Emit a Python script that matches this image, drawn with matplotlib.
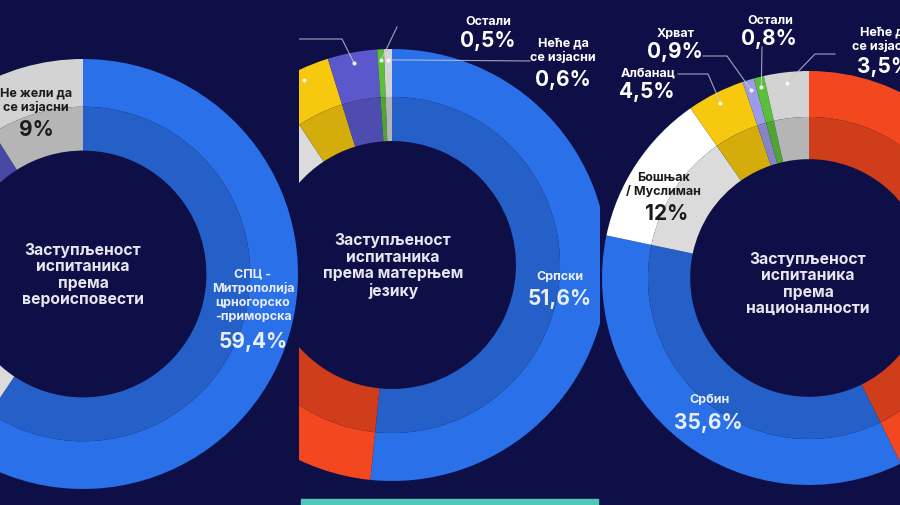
import matplotlib.pyplot as plt
import numpy as np
from matplotlib.colors import to_rgb
from matplotlib.patches import Rectangle

plt.rcParams['font.family'] = ['Inter', 'DejaVu Sans']

W, H = 900, 506
BG = '#0f0f47'
SHADE = 0.86   # inner band is a darker copy of the outer band

# ---- panel 1: вероисповест (only part of it is in the picture)
rel_names = ['СПЦ -\nМитрополија\nцрногорско\n-приморска', 'Исламска заједница', 'ЦПЦ',
             'Католичка црква', 'Остали', 'Атеиста', 'Не жели да\nсе изјасни']
rel_vals = [59.4, 17.0, 7.5, 3.0, 0.6, 3.5, 9.0]
rel_cols = ['#2a70e8', '#ffffff', '#f2471f', '#f6c90e', '#5cbf3a', '#5454c0', '#d3d3d3']
rel_title = 'Заступљеност\nиспитаника\nпрема\nвероисповести'

# ---- panel 2: матерњи језик
lang_names = ['Српски', 'Црногорски', 'Босански', 'Албански', 'Хрватски', 'Остали',
              'Неће да\nсе изјасни']
lang_vals = [51.6, 30.6, 8.5, 4.5, 3.7, 0.5, 0.6]
lang_cols = ['#2a70e8', '#f2471f', '#ffffff', '#f6c90e', '#5b58cc', '#5cbf3a', '#d3d3d3']
lang_title = 'Заступљеност\nиспитаника\nпрема матерњем\nјезику'

# ---- panel 3: националност
nat_names = ['Црногорац', 'Србин', 'Бошњак\n/ Муслиман', 'Албанац', 'Хрват', 'Остали',
             'Неће да\nсе изјасни']
nat_vals = [42.7, 35.6, 12.0, 4.5, 0.9, 0.8, 3.5]
nat_cols = ['#f2471f', '#2a70e8', '#ffffff', '#f6c90e', '#9b9be6', '#5cbf3a', '#d3d3d3']
nat_title = 'Заступљеност\nиспитаника\nпрема\nнационалности'


def pct(v):
    s = ('%.1f' % v).replace('.', ',')
    if s.endswith(',0'):
        s = s[:-2]
    return s + '%'


fig = plt.figure(figsize=(9, 5.06), dpi=100)
fig.patch.set_facecolor(BG)


def donut(x0, x1, cx, cy, r, vals, cols):
    ax = fig.add_axes([x0 / W, 0, (x1 - x0) / W, 1])
    inner = [tuple(np.array(to_rgb(c)) * SHADE) for c in cols]
    w1, _ = ax.pie(vals, colors=cols, radius=1.0, startangle=90, counterclock=False,
                   wedgeprops=dict(width=0.222, linewidth=0))
    w2, _ = ax.pie(vals, colors=inner, radius=0.778, startangle=90, counterclock=False,
                   wedgeprops=dict(width=0.204, linewidth=0))
    for w in list(w1) + list(w2):
        w.set_clip_on(True)
        w.set_clip_box(ax.bbox)
    ax.set_aspect('auto')
    ax.set_xlim((x0 - cx) / r, (x1 - cx) / r)
    ax.set_ylim((cy - H) / r, cy / r)
    ax.axis('off')
    return ax


def P(g, x, y):
    # pixel position -> data position of a panel
    cx, cy, r = g
    return (x - cx) / r, (cy - y) / r


def label(ax, g, name, value, npos, vpos, col='white', nsize=9, vsize=15):
    if name:
        ax.text(*P(g, *npos), name, ha='center', va='center', color=col, fontsize=nsize,
                fontweight='bold', linespacing=1.25, clip_on=True)
    if value:
        ax.text(*P(g, *vpos), value, ha='center', va='center', color=col, fontsize=vsize,
                fontweight='bold', clip_on=True)


def leader(ax, g, vals, i, pts):
    # dot sits in the middle of the wedge, near the outer edge
    cum = np.cumsum(vals)
    th = np.radians(360 * (cum[i] - vals[i] / 2) / 100.0)
    dx, dy = 0.95 * np.sin(th), 0.95 * np.cos(th)
    xs = [P(g, *p)[0] for p in pts] + [dx]
    ys = [P(g, *p)[1] for p in pts] + [dy]
    if len(pts):
        ax.plot(xs, ys, color='#c8c8d8', lw=0.8, alpha=0.8, clip_on=True)
    ax.plot([dx], [dy], 'o', color='white', markersize=2, alpha=0.8, clip_on=True)


def title(ax, g, txt, pos):
    ax.text(*P(g, *pos), txt, ha='center', va='center', color='#e6e6f0', fontsize=11.3,
            fontweight='bold', linespacing=1.12)


# panel 1
g1 = (83, 275, 215)
ax1 = donut(0, 299, *g1, rel_vals, rel_cols)
title(ax1, g1, rel_title, (83, 275))
label(ax1, g1, rel_names[0], pct(rel_vals[0]), (253, 296), (253, 342), col='#e8eefa')
label(ax1, g1, rel_names[6], pct(rel_vals[6]), (36, 101), (36, 130), col='#1b1b1b')

# panel 2
g2 = (392, 266, 216)
ax2 = donut(299, 600, *g2, lang_vals, lang_cols)
title(ax2, g2, lang_title, (393, 266))
label(ax2, g2, lang_names[0], pct(lang_vals[0]), (560, 277), (560, 299), col='#e8eefa')
label(ax2, g2, lang_names[5], pct(lang_vals[5]), (488, 22), (488, 41))
label(ax2, g2, lang_names[6], pct(lang_vals[6]), (563, 51), (563, 80))
leader(ax2, g2, lang_vals, 5, [(397, 28)])
leader(ax2, g2, lang_vals, 6, [(530, 62)])
leader(ax2, g2, lang_vals, 4, [(250, 40), (342, 40)])
leader(ax2, g2, lang_vals, 3, [])

# panel 3
g3 = (809, 279, 207)
ax3 = donut(600, 900, *g3, nat_vals, nat_cols)
title(ax3, g3, nat_title, (808, 284))
label(ax3, g3, nat_names[1], pct(nat_vals[1]), (710, 400), (708, 423), col='#e8eefa')
label(ax3, g3, nat_names[2], pct(nat_vals[2]), (663, 185), (667, 214), col='#1b1b1b')
label(ax3, g3, nat_names[3], pct(nat_vals[3]), (648, 73), (647, 92))
label(ax3, g3, nat_names[4], pct(nat_vals[4]), (676, 34), (675, 52))
label(ax3, g3, nat_names[5], pct(nat_vals[5]), (770, 21), (769, 39))
label(ax3, g3, nat_names[6], pct(nat_vals[6]), (885, 40), (885, 67))
leader(ax3, g3, nat_vals, 3, [(678, 75), (708, 75)])
leader(ax3, g3, nat_vals, 4, [(703, 57), (727, 57)])
leader(ax3, g3, nat_vals, 5, [(762, 48)])
leader(ax3, g3, nat_vals, 6, [(835, 55), (815, 55)])

# teal strip under the middle panel
fig.patches.append(Rectangle((301 / W, 0), 297 / W, 6 / H, transform=fig.transFigure,
                             color='#52c7b8', zorder=5))

fig.savefig('out.png', dpi=100, facecolor=BG)
